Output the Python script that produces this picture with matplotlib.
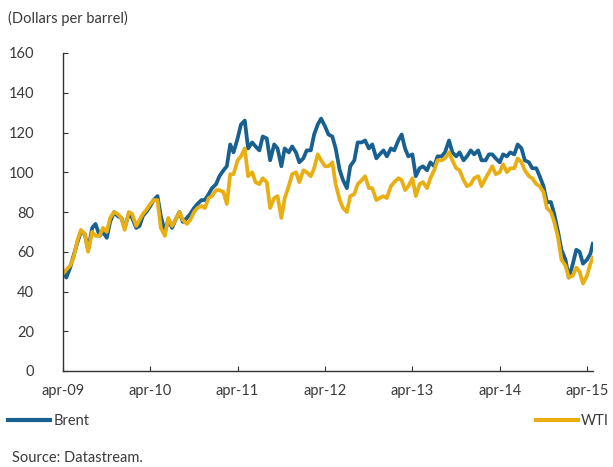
"""
Brent vs WTI crude oil prices, apr-09 to apr-15.
"""

import numpy as np
import pandas as pd
import matplotlib
matplotlib.use("Agg")
import matplotlib.pyplot as plt
from matplotlib.lines import Line2D

plt.rcParams['font.family'] = ['Lato', 'DejaVu Sans']

# Semi-monthly readings (1st and 15th of each month), plus two points in late Apr-15
dates = list(pd.date_range('2009-04-01', '2015-04-01', freq='SMS')) + \
    [pd.Timestamp('2015-04-15'), pd.Timestamp('2015-04-25')]

brent = [
    50, 47, 52, 58, 65, 70, 69, 61, 72, 74, 68, 70, 67, 75, 80, 78, 77, 72,                   # 2009
    79, 77, 72, 73, 78, 80, 83, 86, 88, 78, 70, 76, 72, 76, 80, 75, 77, 79, 82, 84, 86, 86, 89, 92,  # 2010
    94, 98, 101, 103, 114, 110, 117, 124, 126, 112, 115, 113,
    111, 118, 117, 106, 114, 112, 103, 112, 110, 113, 110, 105,                                # 2011
    107, 111, 111, 119, 124, 127, 123, 119, 118, 112, 101, 96,
    92, 103, 106, 115, 115, 116, 112, 114, 107, 109, 111, 108,                                 # 2012
    112, 111, 116, 119, 112, 108, 109, 98, 102, 103, 101, 105,
    103, 108, 108, 110, 116, 110, 108, 110, 106, 108, 111, 109,                                # 2013
    111, 106, 106, 109, 109, 107, 105, 109, 108, 110, 109, 114,
    112, 106, 105, 102, 102, 98, 93, 85, 85, 79, 70, 61,                                       # 2014
    56, 47, 54, 61, 60, 54, 56, 59, 64,                                                        # 2015
]

wti = [
    49, 51, 53, 57, 66, 71, 69, 60, 70, 68, 68, 72, 70, 77, 80, 79, 77, 71,                    # 2009
    80, 79, 73, 76, 79, 81, 84, 86, 86, 72, 68, 77, 73, 76, 80, 76, 74, 76, 80, 82, 83, 82, 87, 88,  # 2010
    91, 91, 90, 84, 99, 99, 106, 108, 112, 98, 100, 95,
    94, 97, 95, 82, 87, 88, 77, 87, 93, 99, 100, 95,                                           # 2011
    101, 100, 98, 102, 109, 106, 103, 103, 105, 94, 86, 82,
    80, 88, 89, 94, 96, 98, 92, 92, 86, 87, 88, 87,                                            # 2012
    93, 95, 97, 96, 91, 93, 97, 88, 94, 95, 92, 97,
    101, 106, 106, 107, 110, 106, 102, 101, 96, 93, 94, 97,                                    # 2013
    98, 93, 97, 100, 103, 99, 100, 104, 100, 102, 102, 107,
    105, 101, 98, 97, 94, 93, 90, 82, 80, 75, 67, 56,                                          # 2014
    53, 47, 48, 52, 50, 44, 48, 54, 57,                                                        # 2015
]

assert len(dates) == len(brent) == len(wti)

tick_dates = pd.date_range('2009-04-01', '2015-04-01', freq='12MS')
tick_labels = ['apr-09', 'apr-10', 'apr-11', 'apr-12', 'apr-13', 'apr-14', 'apr-15']
y_ticks = [0, 20, 40, 60, 80, 100, 120, 140, 160]

BLUE = '#17608f'
GOLD = '#e9af12'
TEXT = '#3a3a3a'
AXIS = '#333333'

fig = plt.figure(figsize=(6.13, 4.67), dpi=100)
ax = fig.add_axes([63 / 613, 1 - 371 / 467, 530 / 613, 318 / 467])

ax.plot(dates, brent, color=BLUE, linewidth=2.7, solid_joinstyle='round')
ax.plot(dates, wti, color=GOLD, linewidth=2.7, solid_joinstyle='round')

ax.set_ylim(0, 160)
ax.set_xlim(pd.Timestamp('2009-04-01'), pd.Timestamp('2015-04-26'))
ax.set_yticks(y_ticks)
ax.set_xticks(tick_dates)
ax.set_xticklabels(tick_labels)

for side in ['top', 'right']:
    ax.spines[side].set_visible(False)
for side in ['left', 'bottom']:
    ax.spines[side].set_color(AXIS)
    ax.spines[side].set_linewidth(1.0)

ax.tick_params(axis='y', direction='in', length=3.5, width=0.8, color=AXIS,
               labelsize=10.5, labelcolor=TEXT, pad=21)
ax.tick_params(axis='x', direction='in', length=3.5, width=0.8, color=AXIS,
               labelsize=10.5, labelcolor=TEXT, pad=9)

fig.text(8 / 613, 1 - 18 / 467, '(Dollars per barrel)', fontsize=10.5,
         color=TEXT, va='center', ha='left')

# two legends: Brent left, WTI right
h_brent = Line2D([], [], color=BLUE, linewidth=3)
h_wti = Line2D([], [], color=GOLD, linewidth=3)
leg_kw = dict(frameon=False, fontsize=10.5, handlelength=2.9, handletextpad=0.2,
              borderpad=0, borderaxespad=0, labelcolor=TEXT)
fig.legend([h_brent], ['Brent'], loc='center left',
           bbox_to_anchor=(8 / 613, 1 - 421 / 467), **leg_kw)
fig.legend([h_wti], ['WTI'], loc='center right',
           bbox_to_anchor=(609 / 613, 1 - 421 / 467), **leg_kw)

fig.text(12 / 613, 1 - 458 / 467, 'Source: Datastream.', fontsize=10.5,
         color=TEXT, va='center', ha='left')

fig.savefig('out.png', dpi=100)
